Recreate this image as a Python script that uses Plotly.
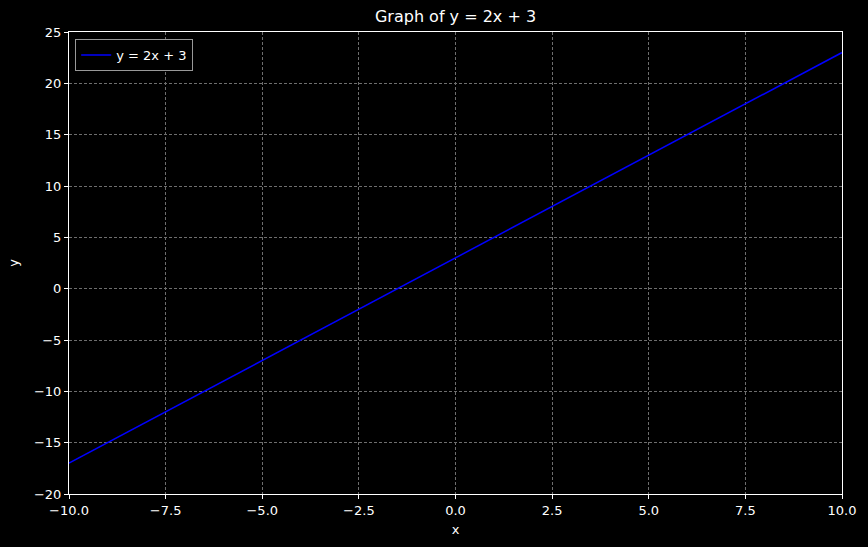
import plotly.graph_objects as go

x_vals = [-10, -5, 0, 5, 10]
y_vals = [-17, -7, 3, 13, 23]

x_ticks = [-10, -7.5, -5, -2.5, 0, 2.5, 5, 7.5, 10]
x_ticktext = ["−10.0", "−7.5", "−5.0", "−2.5", "0.0", "2.5", "5.0", "7.5", "10.0"]
y_ticks = [-20, -15, -10, -5, 0, 5, 10, 15, 20, 25]
y_ticktext = ["−20", "−15", "−10", "−5", "0", "5", "10", "15", "20", "25"]

font = "DejaVu Sans"

fig = go.Figure()
fig.add_trace(go.Scatter(x=x_vals, y=y_vals, mode="lines", name="y = 2x + 3",
                         line=dict(color="#0000ff", width=1.5)))

axis_common = dict(
    showline=True, linecolor="white", linewidth=1, mirror=True,
    ticks="outside", ticklen=4, tickwidth=1, tickcolor="white",
    showgrid=True, gridcolor="#6e6e6e", gridwidth=0.7, griddash="3px,2px",
    zeroline=False, tickfont=dict(family=font, size=13, color="white"),
)

fig.update_xaxes(range=[-10, 10], tickvals=x_ticks, ticktext=x_ticktext,
                 title=dict(text="x", font=dict(family=font, size=13, color="white"), standoff=8),
                 **axis_common)
fig.update_yaxes(range=[-20, 25], tickvals=y_ticks, ticktext=y_ticktext,
                 title=dict(text="y", font=dict(family=font, size=13, color="white"), standoff=12),
                 **axis_common)

fig.update_layout(
    width=868, height=547,
    margin=dict(l=69, r=21, t=32, b=53),
    paper_bgcolor="black", plot_bgcolor="black",
    font=dict(family=font, size=13, color="white"),
    title=dict(text="Graph of y = 2x + 3", x=0.5, xref="paper", xanchor="center",
               y=1, yref="container", yanchor="top", pad=dict(t=11),
               font=dict(family=font, size=16, color="white")),
    showlegend=True,
    legend=dict(x=0.008, y=0.985, xanchor="left", yanchor="top",
                bgcolor="black", bordercolor="#999999", borderwidth=1,
                font=dict(family=font, size=13, color="white")),
)

fig.write_html("out.html", config={"displayModeBar": False},
               post_script="document.body.style.margin='0';document.body.style.background='black';")
